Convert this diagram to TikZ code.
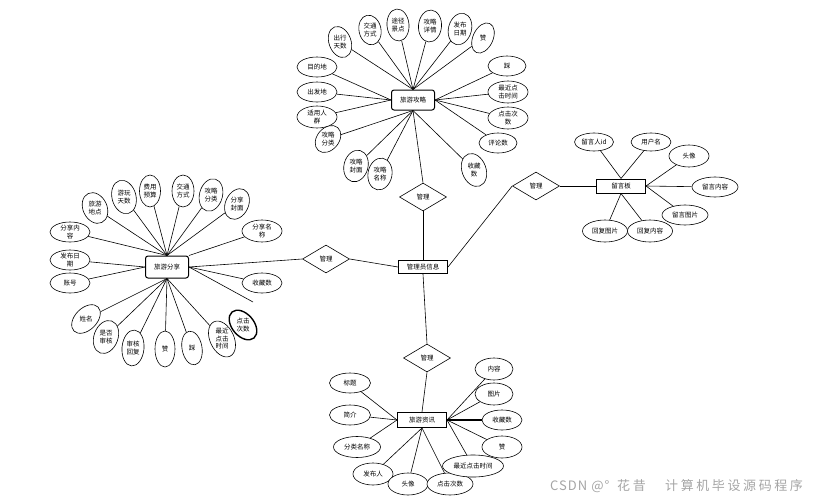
\documentclass[tikz,border=0pt]{standalone}
\usepackage{fontspec}
\setmainfont{Noto Sans CJK SC}
\newfontfamily\wmfont[LetterSpace=20]{Noto Sans CJK SC}
\newfontfamily\wmlatin[LetterSpace=8]{Noto Sans CJK SC}
\usetikzlibrary{shapes.geometric}
\definecolor{wmgray}{RGB}{165,165,165}
% attribute: name, position, width, height, rotation of the outline, text
\newcommand\eattr[6]{%
  \node[ell={#3}{#4}, rotate=#5] (#1) at (#2) {};
  \node (#1t) at (#1.center) {#6};}
\begin{document}
\begin{tikzpicture}[x=1pt,y=-1pt,
  every node/.style={font=\fontsize{6.5}{7.5}\selectfont, align=center, inner sep=0pt},
  ell/.style 2 args={draw, fill=white, ellipse, minimum width=#1pt, minimum height=#2pt, line width=0.6pt},
  ent/.style 2 args={draw, fill=white, rectangle, minimum width=#1pt, minimum height=#2pt, line width=1pt},
  rent/.style 2 args={ent={#1}{#2}, rounded corners=2.5pt},
  rel/.style={draw, fill=white, diamond, aspect=1.7, minimum width=47pt, minimum height=28pt, line width=0.6pt},
  lk/.style={line width=0.6pt},
  wm/.style={font=\wmfont\fontsize{13}{14}\selectfont, text=wmgray, anchor=base west}]
\useasboundingbox (0,0) rectangle (815,501);

% ---------- entities and relations ----------
\node[rent={43}{20}] (gl) at (413,100) {旅游攻略};
\node[rent={43}{22}] (fx) at (167,267) {旅游分享};
\node[ent={49}{13}] (adm) at (423,267) {管理员信息};
\node[ent={49}{14}] (ly) at (621,186) {留言板};
\node[ent={49}{15}] (zx) at (422,420) {旅游资讯};
\node[rel] (d1) at (423,197) {管理};
\node[rel] (d2) at (326,259) {管理};
\node[rel] (d3) at (536,186) {管理};
\node[rel] (d4) at (427,358) {管理};

\draw[lk] (gl.south) -- (d1.north);
\draw[lk] (d1.south) -- (adm.north);
\draw[lk] (fx.east) -- (d2.west);
\draw[lk] (d2.east) -- (adm.west);
\draw[lk] (adm.east) -- (d3.west);
\draw[lk] (d3.east) -- (ly.west);
\draw[lk] (adm.south) -- (d4.north);
\draw[lk] (d4.south) -- (zx.north);

% ---------- 旅游攻略 attributes ----------
\eattr{a1}{340,42}{22}{32}{20}{出行\\天数}
\eattr{a2}{370,30}{22}{30}{12}{交通\\方式}
\eattr{a3}{398,25}{22}{32}{5}{途径\\景点}
\eattr{a4}{430,26}{23}{32}{-5}{攻略\\详情}
\eattr{a5}{460,29}{23}{32}{-15}{发布\\日期}
\eattr{a6}{483,38}{20}{32}{-25}{赞}
\eattr{a7}{507,66}{38}{20}{0}{踩}
\eattr{a8}{508,92}{40}{22}{0}{最近点\\击时间}
\eattr{a9}{508,118}{40}{22}{0}{点击次\\数}
\eattr{a10}{498,143}{38}{20}{0}{评论数}
\eattr{a11}{474,170}{24}{34}{20}{收藏\\数}
\eattr{a12}{380,174}{24}{32}{-10}{攻略\\名称}
\eattr{a13}{356,166}{24}{32}{-15}{攻略\\封面}
\eattr{a14}{328,139}{22}{30}{-40}{攻略\\分类}
\eattr{a15}{317,117}{40}{22}{0}{适用人\\群}
\eattr{a16}{317,92}{40}{20}{0}{出发地}
\eattr{a17}{317,67}{40}{20}{0}{目的地}
\foreach \n in {a1,a2,a3,a4,a5,a6} \draw[lk] (gl.north) -- (\n);
\foreach \n in {a7,a8,a9,a10} \draw[lk] (gl.east) -- (\n);
\foreach \n in {a11,a12,a13,a14} \draw[lk] (gl.south) -- (\n);
\foreach \n in {a15,a16,a17} \draw[lk] (gl.west) -- (\n);

% ---------- 旅游分享 attributes ----------
\eattr{b1}{95,208}{24}{32}{25}{旅游\\地点}
\eattr{b2}{124,197}{24}{34}{15}{游玩\\天数}
\eattr{b3}{150,191}{21}{32}{0}{费用\\预算}
\eattr{b4}{183,191}{22}{32}{0}{交通\\方式}
\eattr{b5}{211,195}{23}{33}{-15}{攻略\\分类}
\eattr{b6}{237,204}{23}{32}{-25}{分享\\封面}
\eattr{b7}{262,231}{40}{22}{0}{分享名\\称}
\eattr{b8}{262,283}{40}{20}{0}{收藏数}
\eattr{b9}{70,232}{40}{20}{0}{分享内\\容}
\eattr{b10}{70,260}{40}{20}{0}{发布日\\期}
\eattr{b11}{70,283}{40}{20}{0}{账号}
\eattr{b12}{86,319}{22}{34}{-45}{姓名}
\eattr{b13}{106,337}{24}{34}{-20}{是否\\审核}
\eattr{b14}{133,348}{22}{36}{-5}{审核\\回复}
\eattr{b15}{165,349}{20}{36}{0}{赞}
\eattr{b16}{192,348}{20}{34}{10}{踩}
\eattr{b17}{222,339}{24}{38}{25}{最近\\点击\\时间}
\node[ell={22}{34}, rotate=40, line width=1.4pt] (b18) at (243,325) {};
\node (b18t) at (b18.center) {点击\\次数};
\coordinate (bx) at (253,302);
\foreach \n in {b1,b2,b3,b4,b5,b6,b9} \draw[lk] (fx.north) -- (\n);
\draw[lk] (fx.north east) -- (b7);
\foreach \n in {b10,b11} \draw[lk] (fx.west) -- (\n);
\draw[lk] (fx.east) -- (b8);
\draw[lk] (fx.east) -- (bx);
\foreach \n in {b12,b13,b14,b15,b16,b17} \draw[lk] (fx.south) -- (\n);

% ---------- 留言板 attributes ----------
\eattr{c1}{594,142}{39}{18}{0}{留言人id}
\eattr{c2}{651,142}{40}{18}{0}{用户名}
\eattr{c3}{689,156}{40}{22}{0}{头像}
\eattr{c4}{715,187}{46}{20}{0}{留言内容}
\eattr{c5}{685,215}{46}{20}{0}{留言图片}
\eattr{c6}{605,231}{45}{22}{0}{回复图片}
\eattr{c7}{650,231}{45}{22}{0}{回复内容}
\foreach \n in {c1,c2} \draw[lk] (ly.north) -- (\n);
\foreach \n in {c3,c4,c5} \draw[lk] (ly.east) -- (\n);
\foreach \n in {c6,c7} \draw[lk] (ly.south) -- (\n);

% ---------- 旅游资讯 attributes ----------
\eattr{e1}{350,383}{41}{20}{0}{标题}
\eattr{e2}{350,415}{41}{20}{0}{简介}
\eattr{e3}{357,447}{47}{21}{0}{分类名称}
\eattr{e4}{373,474}{40}{22}{0}{发布人}
\eattr{e5}{408,484}{40}{22}{0}{头像}
\eattr{e6}{450,484}{46}{22}{0}{点击次数}
\eattr{e7}{473,466}{61}{22}{0}{最近点击时间}
\eattr{e8}{502,447}{40}{22}{0}{赞}
\eattr{e9}{502,420}{40}{20}{0}{收藏数}
\eattr{e10}{494,394}{38}{22}{0}{图片}
\eattr{e11}{494,369}{38}{22}{0}{内容}
\foreach \n in {e1,e2,e3} \draw[lk] (zx.west) -- (\n);
\foreach \n in {e4,e5,e6} \draw[lk] (zx.south) -- (\n);
\foreach \n in {e7,e8,e10,e11} \draw[lk] (zx.east) -- (\n);
\draw[line width=1.5pt] (zx.east) -- (e9);

% ---------- watermark ----------
\node[wm, font=\wmlatin\fontsize{13}{14}\selectfont] (w1) at (550,490) {CSDN @°};
\node[wm] (w2) at (617,490) {花昔};
\node[wm] (w3) at (665,490) {计算机毕设源码程序};
\end{tikzpicture}
\end{document}
